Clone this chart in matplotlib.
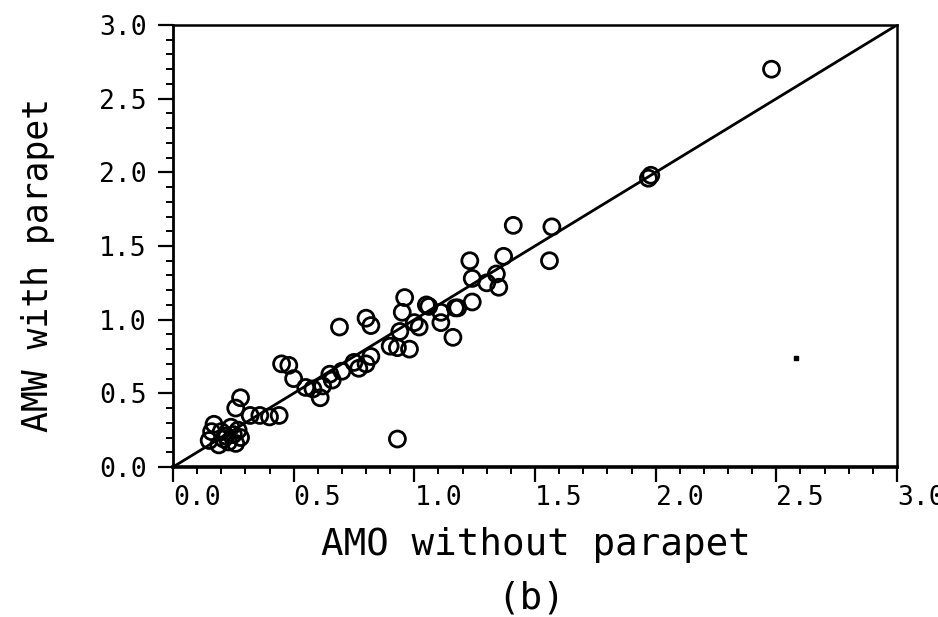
import matplotlib
matplotlib.use("Agg")
import matplotlib.pyplot as plt
from matplotlib.ticker import MultipleLocator, FormatStrFormatter

# Data (AMO without parapet, AMW with parapet)
amo = [0.15, 0.16, 0.17, 0.19, 0.20, 0.21, 0.22, 0.23, 0.24, 0.25,
       0.26, 0.27, 0.28, 0.26, 0.28, 0.32, 0.36, 0.40, 0.44, 0.45,
       0.48, 0.50, 0.55, 0.58, 0.61, 0.62, 0.65, 0.66, 0.70, 0.69,
       0.75, 0.77, 0.80, 0.82, 0.80, 0.82, 0.90, 0.93, 0.94, 0.93,
       0.95, 0.96, 0.98, 1.00, 1.02, 1.05, 1.06, 1.11, 1.11, 1.16,
       1.17, 1.18, 1.23, 1.24, 1.24, 1.30, 1.34, 1.35, 1.37, 1.41,
       1.56, 1.57, 1.97, 1.98, 2.48]
amw = [0.18, 0.24, 0.29, 0.15, 0.24, 0.19, 0.21, 0.17, 0.27, 0.22,
       0.16, 0.25, 0.20, 0.40, 0.47, 0.35, 0.35, 0.34, 0.35, 0.70,
       0.69, 0.60, 0.54, 0.53, 0.47, 0.55, 0.63, 0.59, 0.65, 0.95,
       0.71, 0.67, 0.70, 0.75, 1.01, 0.96, 0.82, 0.81, 0.92, 0.19,
       1.05, 1.15, 0.80, 0.98, 0.95, 1.10, 1.09, 1.05, 0.98, 0.88,
       1.08, 1.08, 1.40, 1.12, 1.28, 1.25, 1.31, 1.22, 1.43, 1.64,
       1.40, 1.63, 1.96, 1.98, 2.70]
speck_x = [2.58]
speck_y = [0.74]
line_x = [0.0, 3.0]
line_y = [0.0, 3.0]
ticks = [0.0, 0.5, 1.0, 1.5, 2.0, 2.5, 3.0]

font = ["DejaVu Sans Mono", "DejaVu Sans"]
plt.rcParams['font.family'] = font

fig = plt.figure(figsize=(9.38, 6.17), dpi=100)
ax = fig.add_axes([0.1844, 0.2431, 0.7719, 0.7164])

ax.plot(line_x, line_y, color="black", lw=2.0, solid_capstyle="butt")
ax.scatter(amo, amw, s=11.5 ** 2, facecolors="none", edgecolors="black",
           linewidths=2.0, zorder=3)
ax.scatter(speck_x, speck_y, s=6, color="black", marker="s", zorder=3)

ax.set_xlim(0, 3)
ax.set_ylim(0, 3)
ax.set_xticks(ticks)
ax.set_yticks(ticks)
ax.xaxis.set_major_formatter(FormatStrFormatter("%.1f"))
ax.yaxis.set_major_formatter(FormatStrFormatter("%.1f"))
ax.xaxis.set_minor_locator(MultipleLocator(0.1))
ax.yaxis.set_minor_locator(MultipleLocator(0.1))

ax.tick_params(which="major", direction="out", length=11, width=1.6,
               labelsize=19, colors="black")
ax.tick_params(which="minor", direction="out", length=5, width=1.4)
ax.tick_params(axis="x", which="major", pad=2)
ax.tick_params(axis="y", which="major", pad=8)
for lab in ax.get_xticklabels():
    lab.set_horizontalalignment("left")

for side in ["top", "right"]:
    ax.spines[side].set_linewidth(1.8)
ax.spines["left"].set_linewidth(2.0)
ax.spines["bottom"].set_linewidth(2.6)

fig.text(0.571, 0.117, "AMO without parapet", ha="center", va="center",
         fontsize=27)
fig.text(0.040, 0.57, "AMW with parapet", ha="center", va="center",
         rotation=90, fontsize=25)
fig.text(0.566, 0.030, "(b)", ha="center", va="center", fontsize=27)

fig.savefig("out.png", dpi=100)
